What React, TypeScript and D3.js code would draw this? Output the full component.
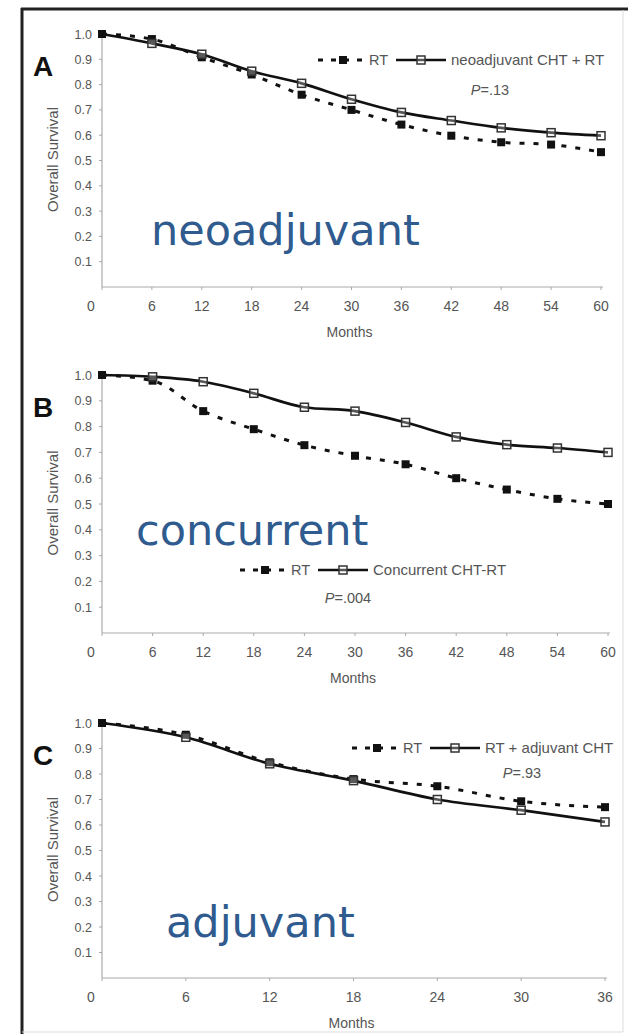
import React from "react";
import * as d3 from "d3";

// ---- data ----
const monthsA = [0, 6, 12, 18, 24, 30, 36, 42, 48, 54, 60];
const rtA = [1.0, 0.98, 0.908, 0.84, 0.76, 0.7, 0.642, 0.598, 0.572, 0.563, 0.533];
const chtA = [1.0, 0.963, 0.92, 0.853, 0.805, 0.742, 0.69, 0.658, 0.629, 0.61, 0.598];

const monthsB = [0, 6, 12, 18, 24, 30, 36, 42, 48, 54, 60];
const rtB = [1.0, 0.978, 0.86, 0.79, 0.728, 0.687, 0.654, 0.6, 0.556, 0.52, 0.5];
const chtB = [1.0, 0.993, 0.974, 0.929, 0.875, 0.86, 0.816, 0.76, 0.73, 0.717, 0.7];

const monthsC = [0, 6, 12, 18, 24, 30, 36];
const rtC = [1.0, 0.954, 0.846, 0.78, 0.752, 0.693, 0.67];
const chtC = [1.0, 0.944, 0.84, 0.774, 0.7, 0.658, 0.612];

const yTicks = [0.1, 0.2, 0.3, 0.4, 0.5, 0.6, 0.7, 0.8, 0.9, 1.0];

const panels = [
  {
    letter: "A", months: monthsA, rt: rtA, cht: chtA, xMax: 60,
    chtLabel: "neoadjuvant CHT + RT", p: "=.13", overlay: "neoadjuvant",
    top: 34, bottom: 287, right: 601,
    legend: { x: 318, y: 60 }, pPos: { x: 490, y: 95 }, over: { x: 151, y: 245 },
  },
  {
    letter: "B", months: monthsB, rt: rtB, cht: chtB, xMax: 60,
    chtLabel: "Concurrent CHT-RT", p: "=.004", overlay: "concurrent",
    top: 375, bottom: 633, right: 608,
    legend: { x: 240, y: 570 }, pPos: { x: 348, y: 603 }, over: { x: 136, y: 545 },
  },
  {
    letter: "C", months: monthsC, rt: rtC, cht: chtC, xMax: 36,
    chtLabel: "RT + adjuvant CHT", p: "=.93", overlay: "adjuvant",
    top: 723, bottom: 978, right: 605,
    legend: { x: 352, y: 748 }, pPos: { x: 522, y: 778 }, over: { x: 166, y: 937 },
  },
];

const font = "'Liberation Sans', Arial, sans-serif";
const grey = "#555";

function Panel({ cfg }: { cfg: (typeof panels)[number] }) {
  const left = 102;
  const x = d3.scaleLinear().domain([0, cfg.xMax]).range([left, cfg.right]);
  const y = d3.scaleLinear().domain([0, 1]).range([cfg.bottom, cfg.top]);
  const xTicks = cfg.months;

  const rtPts = cfg.months.map((m, i) => [x(m), y(cfg.rt[i])] as [number, number]);
  const chtPts = cfg.months.map((m, i) => [x(m), y(cfg.cht[i])] as [number, number]);
  const line = d3.line().curve(d3.curveMonotoneX);

  const lg = cfg.legend;
  const midY = (cfg.top + cfg.bottom) / 2;

  return (
    <g>
      {/* panel letter */}
      <text x={33} y={cfg.top + 42} fontFamily={font} fontWeight="bold" fontSize={28} fill="#111">
        {cfg.letter}
      </text>
      {/* y axis label */}
      <text
        transform={`translate(58,${midY - 1}) rotate(-90)`}
        textAnchor="middle"
        fontFamily={font}
        fontSize={15}
        fill={grey}
      >
        Overall Survival
      </text>
      {/* axes */}
      <line x1={left} x2={left} y1={cfg.top} y2={cfg.bottom} stroke="#aaa" strokeWidth={1.2} />
      <line x1={left} x2={cfg.right + 2} y1={cfg.bottom} y2={cfg.bottom} stroke="#aaa" strokeWidth={1.2} />
      {yTicks.map((t) => (
        <g key={t}>
          <line x1={left - 3} x2={left} y1={y(t)} y2={y(t)} stroke="#aaa" />
          <text x={left - 10} y={y(t) + 4.5} textAnchor="end" fontFamily={font} fontSize={12.5} fill={grey}>
            {t.toFixed(1)}
          </text>
        </g>
      ))}
      {xTicks.map((t) => (
        <g key={t}>
          <line x1={x(t)} x2={x(t)} y1={cfg.bottom} y2={cfg.bottom + 3} stroke="#aaa" />
          <text
            x={t === 0 ? x(t) - 11 : x(t)}
            y={cfg.bottom + 24}
            textAnchor="middle"
            fontFamily={font}
            fontSize={14}
            fill={grey}
          >
            {t}
          </text>
        </g>
      ))}
      <text x={(left + cfg.right) / 2 - 2} y={cfg.bottom + 50} textAnchor="middle" fontFamily={font} fontSize={14} fill={grey}>
        Months
      </text>

      {/* series */}
      <path d={line(rtPts) || ""} fill="none" stroke="#111" strokeWidth={3} strokeDasharray="5 9" />
      <path d={line(chtPts) || ""} fill="none" stroke="#111" strokeWidth={2.7} />
      {rtPts.map((p, i) => (
        <rect key={"r" + i} x={p[0] - 4} y={p[1] - 4} width={8} height={8} fill="#111" />
      ))}
      {chtPts.slice(1).map((p, i) => (
        <rect key={"c" + i} x={p[0] - 4} y={p[1] - 4} width={8} height={8} fill="#fff" fillOpacity={0.3} stroke="#333" strokeWidth={1.5} />
      ))}

      {/* legend */}
      <line x1={lg.x} x2={lg.x + 45} y1={lg.y} y2={lg.y} stroke="#111" strokeWidth={3} strokeDasharray="5 8" />
      <rect x={lg.x + 21} y={lg.y - 4} width={8} height={8} fill="#111" />
      <text x={lg.x + 51} y={lg.y + 5} fontFamily={font} fontSize={14.5} fill={grey}>RT</text>
      <line x1={lg.x + 78} x2={lg.x + 128} y1={lg.y} y2={lg.y} stroke="#111" strokeWidth={2.7} />
      <rect x={lg.x + 99} y={lg.y - 4} width={8} height={8} fill="#fff" fillOpacity={0.3} stroke="#333" strokeWidth={1.5} />
      <text x={lg.x + 133} y={lg.y + 5} fontFamily={font} fontSize={15} fill={grey}>
        {cfg.chtLabel}
      </text>
      <text x={cfg.pPos.x} y={cfg.pPos.y} textAnchor="middle" fontFamily={font} fontSize={14.5} fill={grey}>
        <tspan fontStyle="italic">P</tspan>
        {cfg.p}
      </text>

      {/* overlay label */}
      <text x={cfg.over.x} y={cfg.over.y} fontFamily="'DejaVu Sans', Verdana, sans-serif" fontSize={43} fill="#2f5b8f">
        {cfg.overlay}
      </text>
    </g>
  );
}

export default function App() {
  return (
    <svg
      width={628}
      height={1034}
      style={{ position: "absolute", left: 0, top: 0, background: "#fff" }}
    >
      <rect x={0} y={0} width={628} height={1034} fill="#fff" />
      {/* frame: dark top/left, light right/bottom */}
      <line x1={21} x2={628} y1={9} y2={9} stroke="#222" strokeWidth={3} />
      <line x1={22} x2={22} y1={8} y2={1034} stroke="#222" strokeWidth={3} />
      <line x1={623} x2={623} y1={10} y2={1032} stroke="#ddd" strokeWidth={1} />
      <line x1={22} x2={623} y1={1032} y2={1032} stroke="#ddd" strokeWidth={1} />
      {panels.map((p) => (
        <Panel key={p.letter} cfg={p} />
      ))}
    </svg>
  );
}
